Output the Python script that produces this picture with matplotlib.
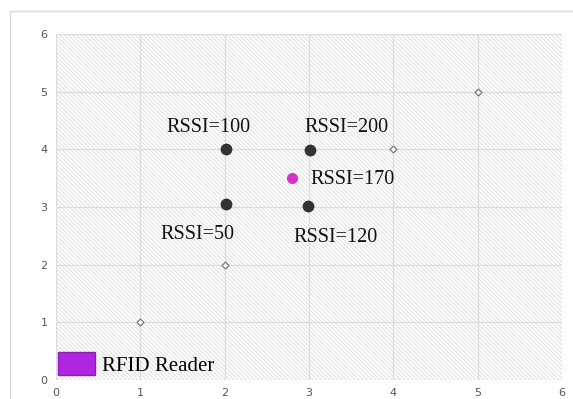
import matplotlib.pyplot as plt
from matplotlib.patches import Patch, Rectangle

# diagonal reference points
diag_x = [1, 2, 4, 5]
diag_y = [1, 2, 4, 5]

# tag positions and readings
tag_x = [2.02, 3.01, 2.02, 2.99]
tag_y = [4.0, 3.99, 3.05, 3.02]
tag_labels = ['RSSI=100', 'RSSI=200', 'RSSI=50', 'RSSI=120']
label_x = [1.81, 3.45, 1.68, 3.31]
label_y = [4.38, 4.38, 2.52, 2.47]

est_x = [2.8]
est_y = [3.5]
est_label = 'RSSI=170'

plt.rcParams['hatch.color'] = '#dadada'
plt.rcParams['hatch.linewidth'] = 0.6

fig = plt.figure(figsize=(5.73, 3.99), dpi=100)
ax = fig.add_axes([56/573, 1-380/399, 506/573, 346/399])

# outer chart frame
fig.patches.append(Rectangle((10/573, -0.1), 1.1, 1-11/399+0.1, transform=fig.transFigure,
                             fill=False, edgecolor='#d9d9d9', lw=1))

ax.add_patch(Rectangle((0, 0), 6, 6, facecolor='white', edgecolor='#dadada',
                       hatch='\\' * 8, lw=0, zorder=0))

ax.plot(diag_x, diag_y, 'D', ms=3.5, mfc='white', mec='#777777', mew=0.9, ls='none', zorder=3)
ax.plot(tag_x, tag_y, 'o', ms=7.5, color='#333333', ls='none', zorder=3)
ax.plot(est_x, est_y, 'o', ms=7, color='#d633c8', ls='none', zorder=3)

tfont = dict(family='Liberation Serif', fontsize=14.5, color='#111111')
for x, y, s in zip(label_x, label_y, tag_labels):
    ax.text(x, y, s, ha='center', va='center', **tfont)
ax.text(3.02, 3.47, est_label, ha='left', va='center', **tfont)

ax.set_xlim(0, 6)
ax.set_ylim(0, 6)
ax.set_xticks(range(7))
ax.set_yticks(range(7))
ax.grid(True, color='#dcdcdc', lw=0.9)
for sp in ax.spines.values():
    sp.set_visible(False)
ax.tick_params(length=0, labelsize=8, labelcolor='#555555', pad=6)

leg = ax.legend(handles=[Patch(facecolor='#b026e0', edgecolor='#8a20b0', label='RFID Reader')],
                loc='lower left', bbox_to_anchor=(-0.012, -0.012), frameon=False,
                prop=dict(family='Liberation Serif', size=15), handlelength=1.75,
                handleheight=1.3, handletextpad=0.35, borderaxespad=0.0)

fig.savefig('out.png', dpi=100)
